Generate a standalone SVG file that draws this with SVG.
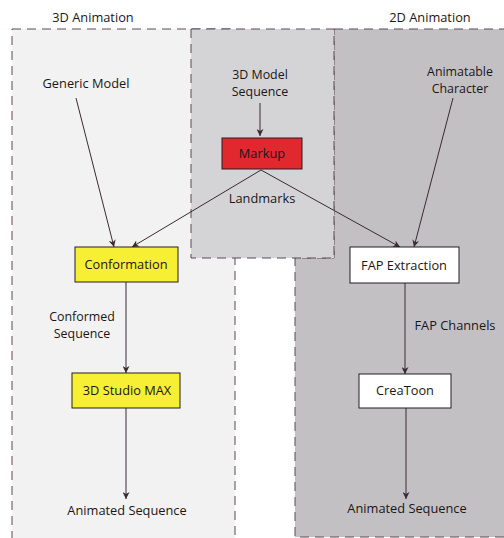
<svg xmlns="http://www.w3.org/2000/svg" width="504" height="538" viewBox="0 0 504 538">
<style>
text{font-family:"Open Sans","Noto Sans",sans-serif;font-size:12.8px;fill:#1a1618;text-anchor:middle}
text.two{font-size:12.4px}
.region{stroke:#5a4a52;stroke-width:1;stroke-dasharray:9,6}
.box{stroke:#231f20;stroke-width:1}
.conn{stroke:#3a2a33;stroke-width:1;fill:none;marker-end:url(#ah)}
</style>
<defs>
<marker id="ah" viewBox="0 0 10 10" refX="10" refY="5" markerWidth="7" markerHeight="7" markerUnits="userSpaceOnUse" orient="auto">
<path d="M0,0 L10,5 L0,10 L3,5 z" fill="#3a2a33"/>
</marker>
</defs>
<rect width="504" height="538" fill="#ffffff"/>
<g id="region-3d">
<rect class="region" x="12" y="29" width="223" height="520" fill="#f2f2f2"/>
<text x="93" y="22">3D Animation</text>
</g>
<g id="region-2d">
<polygon class="region" points="334,29 510,29 510,537 295,537 295,258 334,258" fill="#c3c0c4"/>
<text x="430" y="22">2D Animation</text>
</g>
<g id="region-seq">
<rect class="region" x="191" y="29" width="143" height="229" fill="#d4d4d6"/>
</g>
<g id="connectors">
<line class="conn" x1="76" y1="98" x2="114" y2="247"/>
<line class="conn" x1="260" y1="103" x2="260" y2="136"/>
<line class="conn" x1="261" y1="170" x2="132" y2="247"/>
<line class="conn" x1="261" y1="170" x2="400" y2="247"/>
<line class="conn" x1="453" y1="98" x2="414" y2="247"/>
<line class="conn" x1="126" y1="282" x2="126" y2="373"/>
<line class="conn" x1="126" y1="408" x2="126" y2="499"/>
<line class="conn" x1="405" y1="283" x2="405" y2="374"/>
<line class="conn" x1="406" y1="408" x2="406" y2="499"/>
<text x="262" y="203">Landmarks</text>
<text class="two" x="82" y="321">Conformed</text>
<text class="two" x="82" y="338">Sequence</text>
<text x="455" y="330">FAP Channels</text>
</g>
<g id="generic-model"><text x="86" y="88">Generic Model</text></g>
<g id="model-sequence"><text class="two" x="260" y="79">3D Model</text><text class="two" x="260" y="96">Sequence</text></g>
<g id="animatable-character"><text class="two" x="460" y="76">Animatable</text><text class="two" x="460" y="93">Character</text></g>
<g id="markup"><rect class="box" x="222" y="138" width="80" height="31" fill="#e1282f"/><text x="262" y="158">Markup</text></g>
<g id="conformation"><rect class="box" x="75" y="247" width="103" height="35" fill="#f6ef33"/><text x="126" y="269">Conformation</text></g>
<g id="studio-max"><rect class="box" x="72" y="373" width="108" height="35" fill="#f6ef33"/><text x="127" y="395">3D Studio MAX</text></g>
<g id="fap-extraction"><rect class="box" x="350" y="247" width="109" height="36" fill="#ffffff"/><text x="404" y="270">FAP Extraction</text></g>
<g id="creatoon"><rect class="box" x="359" y="374" width="92" height="34" fill="#ffffff"/><text x="405" y="395">CreaToon</text></g>
<g id="animated-3d"><text x="127" y="515">Animated Sequence</text></g>
<g id="animated-2d"><text x="407" y="513">Animated Sequence</text></g>
</svg>
